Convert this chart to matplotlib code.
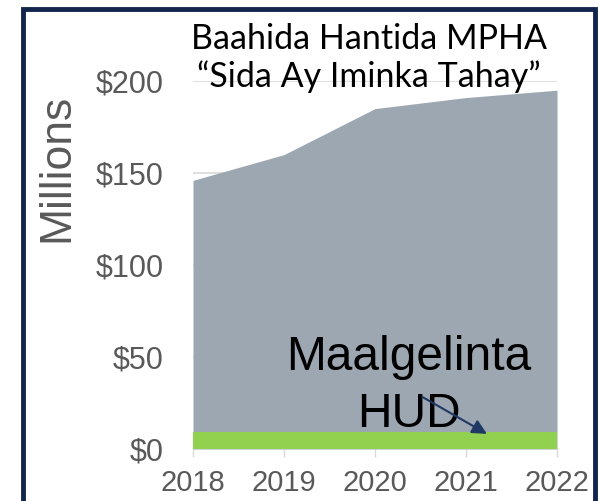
import matplotlib.pyplot as plt
from matplotlib.patches import Rectangle

# data (millions of dollars)
years = [2018, 2019, 2020, 2021, 2022]
total_need = [146, 160, 185, 191, 195]
hud_funding = [9.5, 9.5, 9.5, 9.5, 9.5]
y_ticks = [0, 50, 100, 150, 200]
y_labels = ["$0", "$50", "$100", "$150", "$200"]

W, H = 599, 501
ARIAL = ["Liberation Sans", "DejaVu Sans"]

fig = plt.figure(figsize=(W / 100, H / 100), dpi=100)
ax = fig.add_axes([193 / W, 52 / H, (557 - 193) / W, (449 - 81) / H])

ax.fill_between(years, 0, total_need, color="#9DA7B1", linewidth=0, zorder=2)
ax.fill_between(years, 0, hud_funding, color="#92D050", linewidth=0, zorder=3)

ax.set_xlim(years[0], years[-1])
ax.set_ylim(0, 200)
ax.set_yticks(y_ticks)
ax.set_yticklabels(y_labels)
ax.set_xticks(years)
ax.grid(axis="y", color="#D9D9D9", linewidth=1.2, zorder=1)
for s in ax.spines.values():
    s.set_visible(False)
ax.tick_params(axis="y", length=0, pad=21, labelsize=22, labelcolor="#595959")
ax.tick_params(axis="x", length=6, width=1, color="#D9D9D9", pad=8.5,
               labelsize=21, labelcolor="#595959")
for lab in ax.get_xticklabels() + ax.get_yticklabels():
    lab.set_family(ARIAL)

fig.text(57 / W, 1 - 168 / H, "Millions", rotation=90, ha="center", va="center",
         fontsize=32, color="#595959", family=ARIAL)

fig.text(369 / W, 1 - 58 / H, "Baahida Hantida MPHA\n\u201cSida Ay Iminka Tahay\u201d",
         ha="center", va="center", fontsize=24.5, color="black", family="Lato",
         linespacing=1.2)

# annotation for the HUD band
ax.text(2020.37, 42.9, "Maalgelinta", ha="center", va="baseline", fontsize=34.5,
        color="black", family=ARIAL, zorder=5)
ax.text(2020.37, 12, "HUD", ha="center", va="baseline", fontsize=34.5,
        color="black", family=ARIAL, zorder=5)
ax.annotate("", xy=(2021.23, 8.2), xytext=(2020.52, 28.3),
            arrowprops=dict(arrowstyle="-|>", color="#1F3864", lw=1.5,
                            mutation_scale=22, shrinkA=0, shrinkB=0), zorder=6)

# navy frame around the panel, bottom edge runs off the image
fig.patches.append(Rectangle((22.5 / W, -0.05), (595 - 22.5) / W, 1.05 - 9 / H,
                             transform=fig.transFigure, fill=False,
                             edgecolor="#13254D", linewidth=3.5, clip_on=False))

fig.savefig("out.png", dpi=100)
